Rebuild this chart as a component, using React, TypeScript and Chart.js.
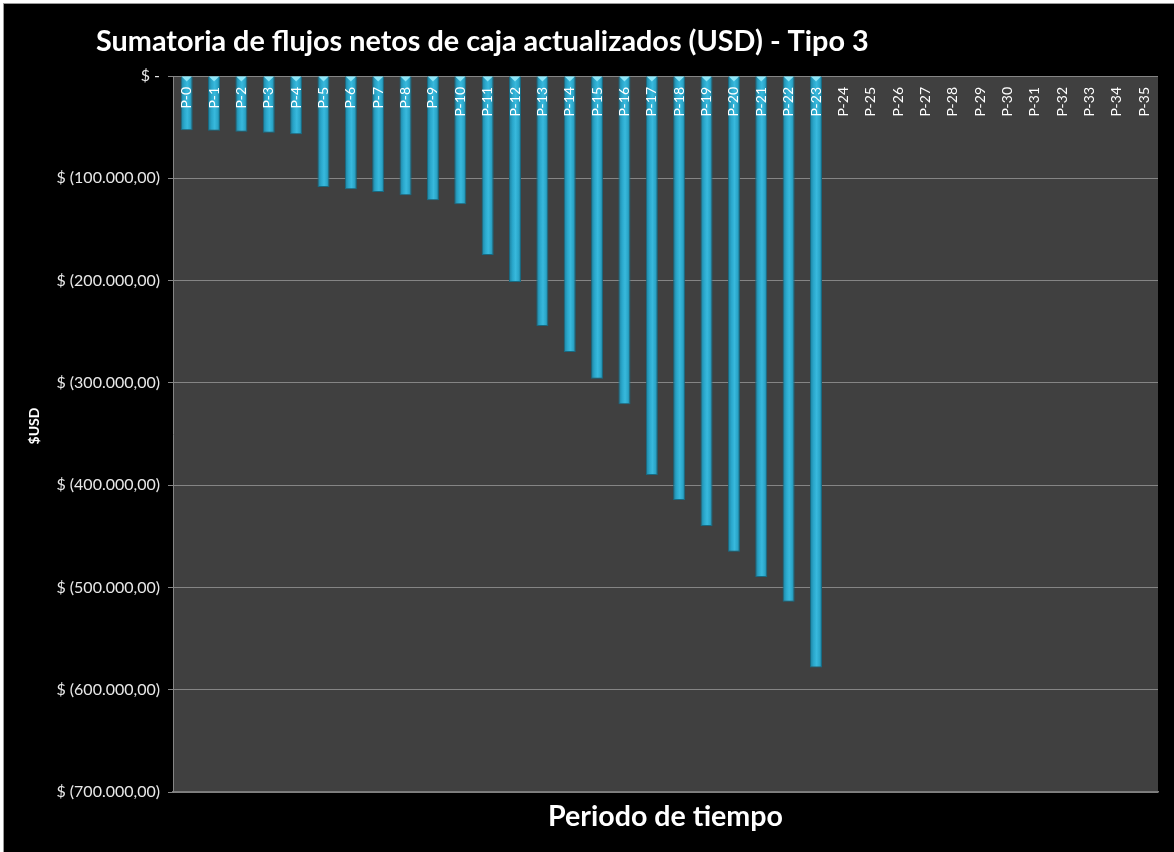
import React, { useEffect, useRef } from "react";
import { Chart, registerables } from "chart.js";

Chart.register(...registerables);

const TITLE = "Sumatoria de flujos netos de caja actualizados (USD) - Tipo 3";
const X_TITLE = "Periodo de tiempo";
const Y_TITLE = "$USD";

const periods = [
  "P-0", "P-1", "P-2", "P-3", "P-4", "P-5", "P-6", "P-7", "P-8", "P-9",
  "P-10", "P-11", "P-12", "P-13", "P-14", "P-15", "P-16", "P-17", "P-18", "P-19",
  "P-20", "P-21", "P-22", "P-23", "P-24", "P-25", "P-26", "P-27", "P-28", "P-29",
  "P-30", "P-31", "P-32", "P-33", "P-34", "P-35",
];

const cumulativeFlows: (number | null)[] = [
  -53100, -53500, -54400, -55400, -57000,
  -108500, -110800, -113400, -116600, -121500,
  -125400, -175000, -201400, -244400, -269800,
  -295900, -321000, -390000, -414500, -439900,
  -465000, -489700, -513900, -578400,
  null, null, null, null, null, null, null, null, null, null, null, null,
];

const yMin = -700000;
const yMax = 0;
const yStep = 100000;

function formatUSD(v: number): string {
  if (v === 0) return "$ -";
  const abs = Math.abs(v);
  const s = abs.toFixed(2).split(".");
  const intPart = s[0].replace(/\B(?=(\d{3})+(?!\d))/g, ".");
  const txt = `${intPart},${s[1]}`;
  return v < 0 ? `$ (${txt})` : `$ ${txt}`;
}

const BAR_PCT = 0.44;

const decorPlugin = {
  id: "decor",
  beforeDraw(chart: any) {
    const { ctx, chartArea } = chart;
    ctx.save();
    ctx.fillStyle = "#404040";
    ctx.fillRect(chartArea.left, chartArea.top, chartArea.right - chartArea.left, chartArea.bottom - chartArea.top);
    ctx.restore();
  },
  afterDatasetsDraw(chart: any) {
    const { ctx, chartArea } = chart;
    const xs = chart.scales.x;
    const meta = chart.getDatasetMeta(0);
    ctx.save();
    meta.data.forEach((el: any, i: number) => {
      if (cumulativeFlows[i] == null) return;
      const { x, base, width } = el.getProps(["x", "base", "width"], true);
      ctx.fillStyle = "#8ee6f7";
      ctx.beginPath();
      ctx.moveTo(x - width / 2 + 1, base);
      ctx.lineTo(x + width / 2 - 1, base);
      ctx.lineTo(x, base + 5);
      ctx.closePath();
      ctx.fill();
    });
    ctx.fillStyle = "#ffffff";
    ctx.font = "14px Lato";
    ctx.textAlign = "right";
    ctx.textBaseline = "middle";
    periods.forEach((lab, i) => {
      const x = xs.getPixelForValue(i);
      ctx.save();
      ctx.translate(x, chartArea.top + 11);
      ctx.rotate(-Math.PI / 2);
      ctx.fillText(lab, 0, 0);
      ctx.restore();
    });
    ctx.restore();
  },
  afterDraw(chart: any) {
    const { ctx, chartArea } = chart;
    ctx.save();
    ctx.fillStyle = "#ffffff";
    let size = 26;
    ctx.font = `bold ${size}px Lato`;
    const w = ctx.measureText(TITLE).width;
    size = size * 773 / w;
    ctx.font = `bold ${size}px Lato`;
    ctx.textAlign = "left";
    ctx.textBaseline = "middle";
    ctx.fillText(TITLE, 92, 38);
    let xs = 26;
    ctx.font = `bold ${xs}px Lato`;
    const wx = ctx.measureText(X_TITLE).width;
    xs = xs * 235 / wx;
    ctx.font = `bold ${xs}px Lato`;
    ctx.textAlign = "center";
    ctx.fillText(X_TITLE, (chartArea.left + chartArea.right) / 2, chartArea.bottom + 25);
    ctx.font = "bold 14px Lato";
    ctx.translate(30, (chartArea.top + chartArea.bottom) / 2 - 8);
    ctx.rotate(-Math.PI / 2);
    ctx.fillText(Y_TITLE, 0, 0);
    ctx.restore();
  },
};

export default function App() {
  const ref = useRef<HTMLCanvasElement | null>(null);

  useEffect(() => {
    document.body.style.margin = "0";
    document.body.style.background = "#ffffff";
    const canvas = ref.current;
    if (!canvas) return;
    const chart = new Chart(canvas, {
      type: "bar",
      data: {
        labels: periods,
        datasets: [
          {
            label: "Sumatoria",
            data: cumulativeFlows,
            backgroundColor: (c: any) => {
              const ch = c.chart;
              const xsc = ch.scales?.x;
              if (!xsc || !ch.chartArea || c.dataIndex == null) return "#2aa6c9";
              const cx = xsc.getPixelForValue(c.dataIndex);
              const bw = (xsc.width / periods.length) * BAR_PCT;
              const g = ch.ctx.createLinearGradient(cx - bw / 2, 0, cx + bw / 2, 0);
              g.addColorStop(0, "#1d7f9c");
              g.addColorStop(0.3, "#2aa7cb");
              g.addColorStop(0.55, "#38b9dd");
              g.addColorStop(0.8, "#2aa5c8");
              g.addColorStop(1, "#1a7591");
              return g;
            },
            borderColor: "#176a82",
            borderWidth: 1,
            borderSkipped: "start",
            barPercentage: BAR_PCT,
            categoryPercentage: 1,
          },
        ],
      },
      options: {
        animation: false,
        responsive: false,
        maintainAspectRatio: false,
        layout: { padding: { left: 0, right: 17, top: 72, bottom: 61 } },
        plugins: {
          legend: { display: false },
          title: { display: false },
          tooltip: { enabled: false },
        },
        scales: {
          x: {
            grid: { display: false },
            ticks: { display: false },
            border: { display: true, color: "#7a7a7a", width: 1.5 },
            afterFit: (s: any) => { s.height = 0; },
          },
          y: {
            min: yMin,
            max: yMax,
            ticks: {
              stepSize: yStep,
              color: "#e8e8e8",
              font: { family: "Lato", size: 16 },
              padding: 8,
              callback: (v: any) => formatUSD(Number(v)),
            },
            grid: {
              color: "#858585",
              tickLength: 5,
              tickColor: "#858585",
            },
            border: { display: true, color: "#858585", width: 1 },
            afterFit: (s: any) => { s.width = 169; },
          },
        },
      },
      plugins: [decorPlugin],
    });
    return () => chart.destroy();
  }, []);

  return (
    <div style={{ width: 1174, height: 852, background: "#ffffff", position: "relative", overflow: "hidden" }}>
      <canvas
        ref={ref}
        width={1171}
        height={849}
        style={{
          position: "absolute",
          left: 3,
          top: 3,
          width: 1171,
          height: 849,
          background: "#000000",
          borderTop: "1px solid #9a9a9a",
          borderLeft: "1px solid #9a9a9a",
          boxSizing: "content-box",
        }}
      />
    </div>
  );
}
